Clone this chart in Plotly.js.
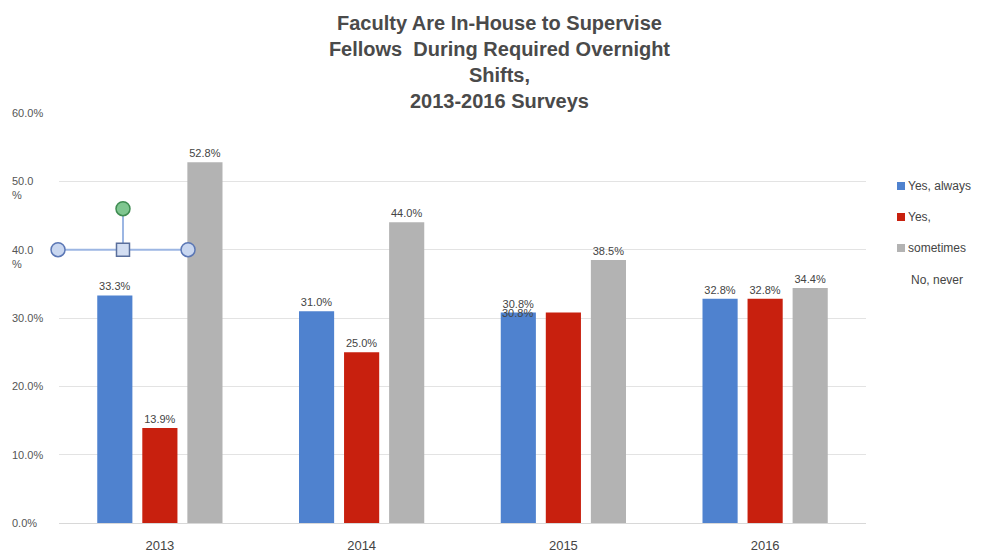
<!DOCTYPE html>
<html>
<head>
<meta charset="utf-8">
<script src="https://cdn.plot.ly/plotly-3.0.1.min.js"></script>
<style>html,body{margin:0;padding:0;background:#fff;}#chart{width:993px;height:554px;}</style>
</head>
<body>
<div id="chart"></div>
<script>
// ---- data ----
const years = ["2013", "2014", "2015", "2016"];
const seriesNames = ["Yes, always", "Yes, sometimes", "No, never"];
const yesAlways = [33.3, 31.0, 30.8, 32.8];
const yesSometimes = [13.9, 25.0, 30.8, 32.8];
const noNever = [52.8, 44.0, 38.5, 34.4];
const seriesColors = ["#4f82cf", "#c8200e", "#b3b3b3"];
const legendLabels = ["Yes, always", "Yes,", "sometimes", "No, never"];
const legendSwatches = ["#4f82cf", "#c8200e", "#b3b3b3", null];
const yTickVals = [0, 10, 20, 30, 40, 50, 60];
const yTickText = ["0.0%", "10.0%", "20.0%", "30.0%", "40.0<br>%", "50.0<br>%", "60.0%"];
const titleText = "Faculty Are In-House to Supervise<br>Fellows  During Required Overnight<br>Shifts,<br>2013-2016 Surveys";

const FONT = "Liberation Sans, Arial, Helvetica, sans-serif";
const fmt = v => v.toFixed(1) + "%";

// label for the 2015 red bar is drawn displaced (overlapping), as in the reference
const redText = yesSometimes.map((v, i) => i === 2 ? "" : fmt(v));

const allValues = [yesAlways, yesSometimes, noNever];
const traces = allValues.map((vals, k) => ({
  type: "bar",
  name: seriesNames[k],
  x: years,
  y: vals,
  text: k === 1 ? redText : vals.map(fmt),
  textposition: "outside",
  textfont: {family: FONT, size: 11, color: "#444"},
  cliponaxis: false,
  marker: {color: seriesColors[k]},
  hoverinfo: "x+y+name"
}));

const annotations = [];
// y tick labels (left aligned, wrapped like the reference)
yTickVals.forEach((v, i) => {
  const multi = yTickText[i].indexOf("<br>") >= 0;
  annotations.push({
    xref: "paper", yref: "y", x: 0, y: v, xshift: -49,
    xanchor: "left", yanchor: multi ? "top" : "middle", yshift: multi ? 8 : 0,
    align: "left", showarrow: false, text: yTickText[i],
    font: {family: FONT, size: 11, color: "#555"}
  });
});
// displaced red 2015 label
annotations.push({
  xref: "x", yref: "y", x: 2, y: yesSometimes[2], xshift: -46, yshift: 0,
  showarrow: false, text: fmt(yesSometimes[2]),
  font: {family: FONT, size: 11, color: "#444"}
});
// legend (custom, wrapped as in the reference)
const legendY = [186, 217, 248, 280];
const shapes = [];
legendLabels.forEach((lab, i) => {
  const yp = (523 - legendY[i]) / 410;
  annotations.push({
    xref: "paper", yref: "paper", x: 1, y: yp, xshift: legendSwatches[i] ? 40 : 43,
    xanchor: "left", yanchor: "middle", showarrow: false, text: lab,
    font: {family: FONT, size: 12, color: "#444"}
  });
  if (legendSwatches[i]) {
    shapes.push({
      type: "rect", xref: "paper", yref: "paper", xsizemode: "pixel", ysizemode: "pixel",
      xanchor: 1, yanchor: yp, x0: 31, x1: 39, y0: -4, y1: 4,
      line: {width: 0}, fillcolor: legendSwatches[i]
    });
  }
});
// selection-handle overlay seen in the reference (paper coordinates, not clipped)
const hx0 = -0.0012, hx1 = 0.1599, hxm = 0.0793, hy = 40 / 60, hyTop = 46 / 60;
shapes.push({type: "line", xref: "paper", yref: "paper", x0: hx0, x1: hx1, y0: hy, y1: hy, line: {color: "#9cb6e3", width: 2}});
shapes.push({type: "line", xref: "paper", yref: "paper", x0: hxm, x1: hxm, y0: hy, y1: hyTop, line: {color: "#9cb6e3", width: 2}});
[hx0, hx1].forEach(cx => shapes.push({
  type: "circle", xref: "paper", yref: "paper", xsizemode: "pixel", ysizemode: "pixel",
  xanchor: cx, yanchor: hy, x0: -7, x1: 7, y0: -7, y1: 7,
  fillcolor: "#c9d7f0", line: {color: "#5b77b5", width: 1.5}
}));
shapes.push({
  type: "rect", xref: "paper", yref: "paper", xsizemode: "pixel", ysizemode: "pixel",
  xanchor: hxm, yanchor: hy, x0: -6.5, x1: 6.5, y0: -6.5, y1: 6.5,
  fillcolor: "#d3def2", line: {color: "#5a6f9c", width: 1.5}
});
shapes.push({
  type: "circle", xref: "paper", yref: "paper", xsizemode: "pixel", ysizemode: "pixel",
  xanchor: hxm, yanchor: hyTop, x0: -7, x1: 7, y0: -7, y1: 7,
  fillcolor: "#7fc690", line: {color: "#3f8c52", width: 1.5}
});

const layout = {
  width: 993, height: 554,
  margin: {l: 59, r: 127, t: 113, b: 31},
  paper_bgcolor: "#fff", plot_bgcolor: "#fff",
  font: {family: FONT, color: "#444"},
  title: {
    text: "<b>" + titleText + "</b>",
    font: {family: FONT, size: 20, color: "#4a4a4a"},
    x: 0.503, xanchor: "center", y: 0.945, yanchor: "middle"
  },
  showlegend: false,
  barmode: "group",
  bargap: 0.33,
  bargroupgap: 0.22,
  xaxis: {
    type: "category", categoryarray: years, range: [-0.5, 3.5], autorange: false,
    showgrid: false, zeroline: false, showline: false,
    ticks: "", ticklabelstandoff: 13, tickfont: {family: FONT, size: 13, color: "#444"}
  },
  yaxis: {
    range: [0, 60], autorange: false, tickvals: yTickVals, showticklabels: false,
    showgrid: true, gridcolor: "#e3e3e3", gridwidth: 1,
    zeroline: true, zerolinecolor: "#d8d8d8", showline: false, ticks: ""
  },
  annotations: annotations,
  shapes: shapes
};

Plotly.newPlot("chart", traces, layout, {displayModeBar: false, staticPlot: true});
</script>
</body>
</html>
